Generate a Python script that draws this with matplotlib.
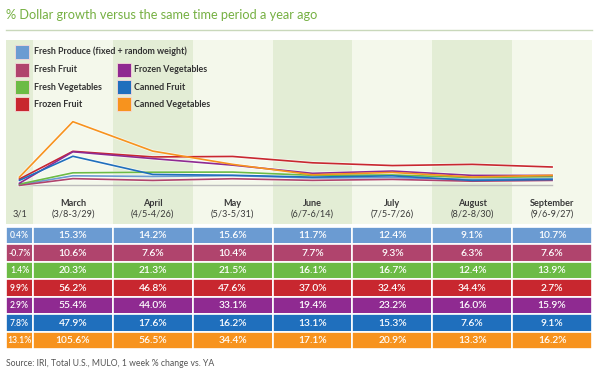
import matplotlib.pyplot as plt
from matplotlib.patches import Rectangle

# data
periods = ["3/1", "March", "April", "May", "June", "July", "August", "September"]
ranges = ["", "(3/8-3/29)", "(4/5-4/26)", "(5/3-5/31)", "(6/7-6/14)",
          "(7/5-7/26)", "(8/2-8/30)", "(9/6-9/27)"]

series = ["Fresh Produce (fixed + random weight)", "Fresh Fruit", "Fresh Vegetables",
          "Frozen Fruit", "Frozen Vegetables", "Canned Fruit", "Canned Vegetables"]
fresh_produce = [0.4, 15.3, 14.2, 15.6, 11.7, 12.4, 9.1, 10.7]
fresh_fruit = [-0.7, 10.6, 7.6, 10.4, 7.7, 9.3, 6.3, 7.6]
fresh_vegetables = [1.4, 20.3, 21.3, 21.5, 16.1, 16.7, 12.4, 13.9]
frozen_fruit = [9.9, 56.2, 46.8, 47.6, 37.0, 32.4, 34.4, 2.7]
frozen_vegetables = [2.9, 55.4, 44.0, 33.1, 19.4, 23.2, 16.0, 15.9]
canned_fruit = [7.8, 47.9, 17.6, 16.2, 13.1, 15.3, 7.6, 9.1]
canned_vegetables = [13.1, 105.6, 56.5, 34.4, 17.1, 20.9, 13.3, 16.2]
# the chart line for frozen fruit in September sits near 30%, not at the table's 2.7%
frozen_fruit_line_sep = 30.0

colors = ["#6b9bd2", "#b0446d", "#6cbb45", "#c8272f", "#8f2a91", "#1f6fbd", "#f7931e"]
values = [fresh_produce, fresh_fruit, fresh_vegetables, frozen_fruit,
          frozen_vegetables, canned_fruit, canned_vegetables]

W, H = 600, 379
fig = plt.figure(figsize=(6, 3.79), dpi=100)
fig.patch.set_facecolor("white")

def fx(px):
    return px / W

def fy(py):
    return 1 - py / H

# column layout (March centre = 0, month width = 1)
xpos = [-0.669, 0, 1, 2, 3, 4, 5, 6]
left_edge = -0.8375
edges = [left_edge, -0.5, 0.5, 1.5, 2.5, 3.5, 4.5, 5.5, 6.5]

# title
fig.text(fx(6), fy(15), "% Dollar growth versus the same time period a year ago",
         color="#76b043", fontsize=9.2, family="Lato", va="center", ha="left")
fig.add_artist(plt.Line2D([fx(6), fx(592)], [fy(30), fy(30)], color="#c9d8bb", lw=1))

# chart
ax = fig.add_axes([fx(6), fy(224), fx(586), (224 - 39.5) / H])
ax.set_xlim(left_edge, 6.5)
ax.set_ylim(-65.1, 242.7)
ax.axis("off")
for i in range(8):
    c = "#e3edd5" if i % 2 == 0 else "#f4f8eb"
    ax.axvspan(edges[i], edges[i + 1], color=c, lw=0, zorder=0)

ax.plot([xpos[0], xpos[-1]], [0, 0], color="#bdbdbd", lw=1, zorder=1)
for name, vals, c in zip(series, values, colors):
    yv = list(vals)
    if name == "Frozen Fruit":
        yv[-1] = frozen_fruit_line_sep
    ax.plot(xpos, yv, color="white", lw=2.4, alpha=0.6, zorder=2)
    ax.plot(xpos, yv, color=c, lw=1.2, zorder=3)

tr = ax.get_xaxis_transform()
for x, p, r in zip(xpos, periods, ranges):
    if r:
        ax.text(x, (224 - 203) / 184.5, p, transform=tr, ha="center", va="center",
                fontsize=6.6, fontweight="bold", family="Lato", color="#3a3a3a")
        ax.text(x, (224 - 214) / 184.5, r, transform=tr, ha="center", va="center",
                fontsize=6.6, family="Lato", color="#3a3a3a")
    else:
        ax.text(x, (224 - 214) / 184.5, p, transform=tr, ha="center", va="center",
                fontsize=6.6, family="Lato", color="#3a3a3a")

# legend
leg_rows = [51.7, 70, 87.3, 104.3]
leg_pos = [(0, 0), (0, 1), (0, 2), (0, 3), (1, 1), (1, 2), (1, 3)]
for (col, row), name, c in zip(leg_pos, series, colors):
    sx = 15 if col == 0 else 117
    tx = 34 if col == 0 else 134
    yc = leg_rows[row]
    fig.add_artist(Rectangle((fx(sx), fy(yc + 7)), fx(14), 14 / H,
                             facecolor=c, edgecolor="#f5d9d9", lw=0.6))
    fig.text(fx(tx), fy(yc), name, fontsize=6.4, fontweight="bold", family="Lato",
             color="#333333", va="center", ha="left")

# table
axt = fig.add_axes([fx(6), fy(349), fx(586), (349 - 226.7) / H])
axt.set_xlim(left_edge, 6.5)
axt.set_ylim(7, 0)
axt.axis("off")
for r, (name, vals, c) in enumerate(zip(series, values, colors)):
    for i, v in enumerate(vals):
        axt.add_patch(Rectangle((edges[i], r), edges[i + 1] - edges[i], 1,
                                facecolor=c, edgecolor="white", lw=1.2))
        xc = xpos[i] if i else (edges[0] + edges[1]) / 2
        axt.text(xc, r + 0.52, f"{v:.1f}%", ha="center", va="center", color="white",
                 fontsize=7.4 if i else 6.2, family="Lato", fontweight="semibold")

fig.text(fx(6), fy(363), "Source: IRI, Total U.S., MULO, 1 week % change vs. YA",
         fontsize=6.2, family="Lato", color="#555555", va="center", ha="left")

fig.savefig("out.png", dpi=100)
